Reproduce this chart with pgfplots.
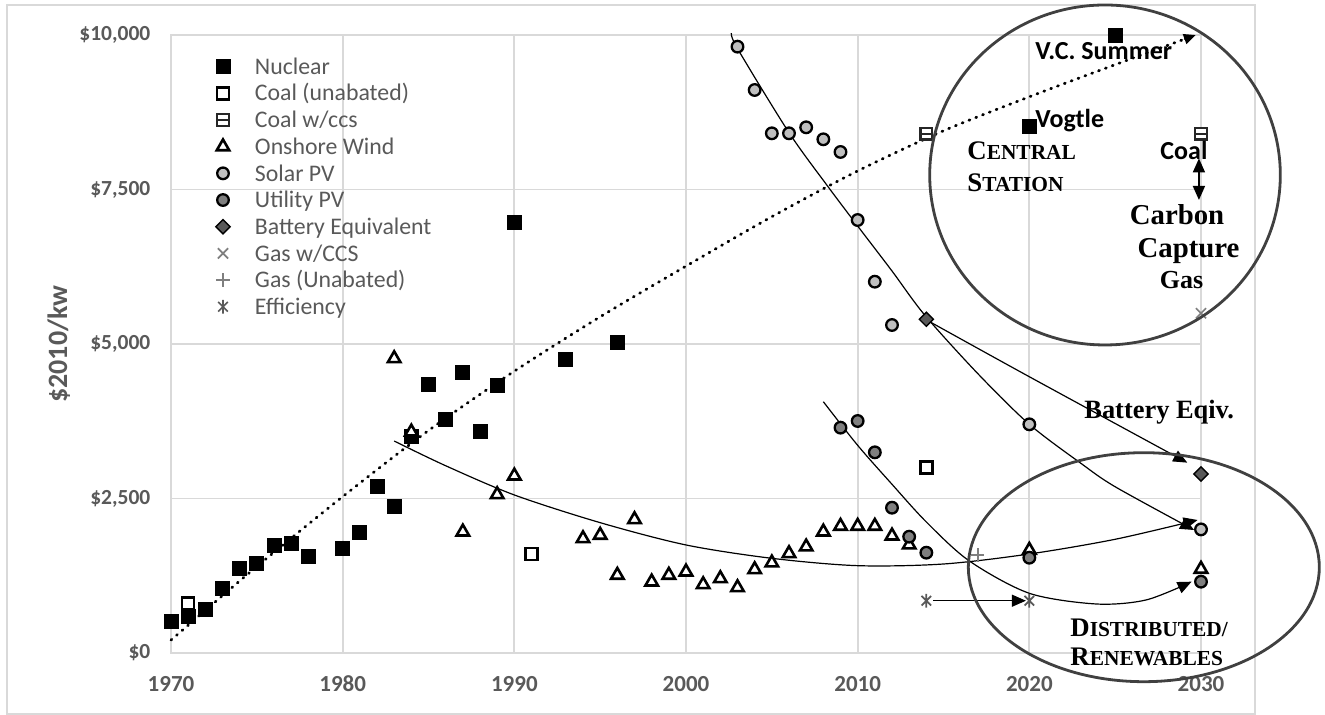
\documentclass[border=0pt]{standalone}
\usepackage{fontspec}
\setmainfont{Carlito}
\newfontfamily\tnr{Liberation Serif}
\usepackage{pgfplots}
\pgfplotsset{compat=1.18}
\usetikzlibrary{arrows.meta}

\definecolor{gridc}{HTML}{D9D9D9}
\definecolor{txtg}{HTML}{595959}
\definecolor{solarc}{HTML}{BFBFBF}
\definecolor{utilc}{HTML}{7F7F7F}
\definecolor{battc}{HTML}{595959}
\definecolor{gasc}{HTML}{7F7F7F}
\definecolor{effc}{HTML}{595959}
\definecolor{ringc}{HTML}{404040}

\pgfdeclareplotmark{sqbar}{%
  \pgfpathrectangle{\pgfqpoint{-\pgfplotmarksize}{-\pgfplotmarksize}}{\pgfqpoint{2\pgfplotmarksize}{2\pgfplotmarksize}}%
  \pgfusepathqfillstroke
  \pgfpathmoveto{\pgfqpoint{-\pgfplotmarksize}{0pt}}%
  \pgfpathlineto{\pgfqpoint{\pgfplotmarksize}{0pt}}%
  \pgfusepathqstroke}
\pgfdeclareplotmark{xstar}{%
  \pgfpathmoveto{\pgfqpoint{-.7071\pgfplotmarksize}{-.7071\pgfplotmarksize}}%
  \pgfpathlineto{\pgfqpoint{.7071\pgfplotmarksize}{.7071\pgfplotmarksize}}%
  \pgfpathmoveto{\pgfqpoint{-.7071\pgfplotmarksize}{.7071\pgfplotmarksize}}%
  \pgfpathlineto{\pgfqpoint{.7071\pgfplotmarksize}{-.7071\pgfplotmarksize}}%
  \pgfpathmoveto{\pgfqpoint{0pt}{-\pgfplotmarksize}}%
  \pgfpathlineto{\pgfqpoint{0pt}{\pgfplotmarksize}}%
  \pgfusepathqstroke}

\pgfplotsset{
  mk/.style={only marks,
    legend image code/.code={\path[draw=none, fill=none] (-8pt,-6.67pt) rectangle (16pt,6.67pt);
      \draw[##1] plot coordinates {(0pt,0pt)};}},
  trend/.style={black, line width=0.6pt, smooth, forget plot, mark=none},
}

\begin{document}
\begin{tikzpicture}
\path[use as bounding box] (0,0) rectangle (662.5pt,357.5pt);
\draw[gridc, line width=0.75pt] (3.5pt,0.5pt) rectangle (627.5pt,355pt);
\begin{axis}[
  at={(85.5pt,31pt)}, anchor=south west,
  scale only axis, width=515pt, height=309pt,
  xmin=1970, xmax=2030, ymin=0, ymax=10000,
  clip=false, scaled y ticks=false, scaled x ticks=false,
  axis line style={draw=gridc, line width=0.9pt},
  grid=major, major grid style={draw=gridc, line width=0.9pt},
  major tick length=0pt,
  xtick={1970,1980,1990,2000,2010,2020,2030},
  xticklabels={1970,1980,1990,2000,2010,2020,2030},
  ytick={0,2500,5000,7500,10000},
  yticklabels={\$0,{\$2,500},{\$5,000},{\$7,500},{\$10,000}},
  xticklabel style={font=\fontsize{11.5pt}{13pt}\selectfont\bfseries, text=txtg, anchor=center, inner sep=0pt, yshift=-15.5pt},
  yticklabel style={font=\fontsize{10.75pt}{13pt}\selectfont\bfseries, text=txtg, anchor=east, inner sep=0pt, xshift=-10.15pt},
  legend cell align=left,
  legend style={at={(axis description cs:0.03495,0.9704)}, anchor=north west,
    draw=none, fill=none, inner sep=0pt, outer sep=0pt, row sep=0pt, column sep=0pt,
    font=\fontsize{11.9pt}{13.33pt}\selectfont,
    nodes={draw=none, fill=none, inner sep=0pt, outer sep=0pt, text=txtg, text height=10.5pt, text depth=2.83pt}},
]
% ---------------- data series ----------------
\addplot[mk, mark=square*, mark size=3.5pt, mark options={draw=black, fill=black, line width=0.4pt}] coordinates {
(1970,510) (1971,600) (1972,707) (1973,1047) (1974,1370) (1975,1450) (1976,1737) (1977,1775)
(1978,1560) (1980,1694) (1981,1953) (1982,2690) (1983,2367) (1984,3500) (1985,4348) (1986,3781)
(1987,4542) (1988,3581) (1989,4336) (1990,6970) (1993,4751) (1996,5021) (2020,8516) (2025,10000)};
\addlegendentry{Nuclear}
\addplot[mk, mark=square*, mark size=3.0pt, mark options={draw=black, fill=white, line width=1.2pt}] coordinates {
(1971,804) (1991,1602) (2014,3000)};
\addlegendentry{Coal (unabated)}
\addplot[mk, mark=sqbar, mark size=2.9pt, mark options={draw=black!85, fill=white, line width=1.2pt}] coordinates {
(2014,8400) (2030,8400)};
\addlegendentry{Coal w/ccs}
\addplot[mk, mark=triangle*, mark size=3.6pt, mark options={draw=black, fill=white, line width=1.3pt}] coordinates {
(1983,4765) (1984,3578) (1987,1960) (1989,2564) (1990,2866) (1994,1852) (1995,1907) (1996,1260)
(1997,2160) (1998,1151) (1999,1260) (2000,1313) (2001,1108) (2002,1205) (2003,1059) (2004,1350)
(2005,1459) (2006,1610) (2007,1718) (2008,1960) (2009,2052) (2010,2052) (2011,2052) (2012,1895)
(2013,1750) (2020,1664) (2030,1357)};
\addlegendentry{Onshore Wind}
\addplot[mk, mark=*, mark size=2.9pt, mark options={draw=black, fill=solarc, line width=1.15pt}] coordinates {
(2003,9811) (2004,9110) (2005,8409) (2006,8409) (2007,8506) (2008,8312) (2009,8107) (2010,7006)
(2011,6008) (2012,5307) (2020,3700) (2030,2000)};
\addlegendentry{Solar PV}
\addplot[mk, mark=*, mark size=2.9pt, mark options={draw=black, fill=utilc, line width=1.15pt}] coordinates {
(2009,3646) (2010,3754) (2011,3247) (2012,2351) (2013,1882) (2014,1623) (2020,1542) (2030,1154)};
\addlegendentry{Utility PV}
\addplot[mk, mark=square*, mark size=2.5pt, mark options={draw=black, fill=battc, rotate=45, line width=0.7pt}] coordinates {
(2014,5400) (2030,2896)};
\addlegendentry{Battery Equivalent}
\addplot[mk, mark=x, mark size=3.6pt, mark options={draw=gasc, line width=0.85pt}] coordinates {
(2030,5497)};
\addlegendentry{Gas w/CCS}
\addplot[mk, mark=+, mark size=3.3pt, mark options={draw=gasc, line width=0.85pt}] coordinates {
(2017,1586)};
\addlegendentry{Gas (Unabated)}
\addplot[mk, mark=xstar, mark size=3.4pt, mark options={draw=effc, line width=0.85pt}] coordinates {
(2014,846) (2020,846)};
\addlegendentry{Efficiency}
% ---------------- trend lines and arrows ----------------
\addplot[black, line width=1.4pt, smooth, forget plot, mark=none, line cap=round, dash pattern=on 0.5pt off 3.15pt,
  -{Triangle[length=6pt,width=5pt]}] coordinates {
(1970,210) (1975,1400) (1980,2530) (1985,3600) (1990,4560) (1995,5440) (2000,6260) (2005,7060)
(2010,7800) (2015,8450) (2020,9000) (2025,9520) (2029.7,10000)};
\addplot[trend, -{Triangle[length=7pt,width=6pt]}] coordinates {
(1983,3430) (1986,3030) (1990,2557) (1995,2109) (2000,1748) (2005,1532) (2010,1413) (2015,1440)
(2020,1602) (2025,1840) (2029.8,2152)};
\addplot[trend, -{Triangle[length=7pt,width=6pt]}] coordinates {
(2002.65,10030) (2003,9780) (2006,8420) (2008.2,7573) (2010,6909) (2012,6181) (2013.9,5470)
(2017,4520) (2020,3700) (2023,3070) (2025,2690) (2029.6,1990)};
\addplot[trend, -{Triangle[length=7pt,width=6pt]}] coordinates {
(2008,4066) (2010,3360) (2012,2730) (2014,2120) (2016.5,1490) (2020,966)
(2023.9,793) (2026.8,858) (2029.45,1154)};
\addplot[trend, -{Triangle[length=7pt,width=6pt]}] coordinates {
(2014.2,5360) (2020,4470) (2029.2,3080)};
\addplot[black, line width=0.6pt, forget plot, mark=none, -{Triangle[length=7pt,width=6pt]}] coordinates {
(2014.4,846) (2019.8,846)};
\addplot[black, line width=0.8pt, forget plot, mark=none, {Triangle[length=7pt,width=6pt]}-{Triangle[length=7pt,width=6pt]}] coordinates {
(2029.88,8003) (2029.88,7330)};
\end{axis}
% ---------------- annotations (pixel coordinates, origin top-left) ----------------
\begin{scope}[x=0.5pt,y=-0.5pt,shift={(0pt,357.5pt)}]
\node[rotate=90, anchor=base, inner sep=0pt, text=txtg, font=\fontsize{14pt}{16pt}\selectfont\bfseries] at (67,344) {\$2010/kw};
\draw[ringc, line width=1.4pt] (1105,175) ellipse [x radius=87.65pt, y radius=85pt];
\draw[ringc, line width=1.4pt] (1143.8,567.2) ellipse [x radius=87.75pt, y radius=57.25pt];
\begin{scope}[every node/.style={inner sep=0pt, anchor=base west}]
\node[font=\fontsize{13pt}{15pt}\selectfont\bfseries] at (1035,59.3) {V.C. Summer};
\node[font=\fontsize{13pt}{15pt}\selectfont\bfseries] at (1035,127.7) {Vogtle};
\node[font=\fontsize{13pt}{15pt}\selectfont\bfseries] at (1160,159.3) {Coal};
\node[font=\tnr\bfseries] at (967,160) {\fontsize{13.4pt}{16pt}\selectfont C\fontsize{10.7pt}{16pt}\selectfont ENTRAL};
\node[font=\tnr\bfseries] at (967,191.7) {\fontsize{13.4pt}{16pt}\selectfont S\fontsize{10.7pt}{16pt}\selectfont TATION};
\node[font=\tnr\bfseries\fontsize{14.4pt}{16pt}\selectfont, anchor=base] at (1177,225) {Carbon};
\node[font=\tnr\bfseries\fontsize{14.4pt}{16pt}\selectfont, anchor=base] at (1188.5,258) {Capture};
\node[font=\tnr\bfseries\fontsize{13pt}{16pt}\selectfont, anchor=base] at (1181.5,288.3) {Gas};
\node[font=\tnr\bfseries\fontsize{13.2pt}{16pt}\selectfont] at (1084,418.3) {Battery Eqiv.};
\node[font=\tnr\bfseries] at (1070,636.7) {\fontsize{13.4pt}{16pt}\selectfont D\fontsize{10.7pt}{16pt}\selectfont ISTRIBUTED/};
\node[font=\tnr\bfseries] at (1070,666) {\fontsize{13.4pt}{16pt}\selectfont R\fontsize{10.7pt}{16pt}\selectfont ENEWABLES};
\end{scope}
\end{scope}
\end{tikzpicture}
\end{document}
